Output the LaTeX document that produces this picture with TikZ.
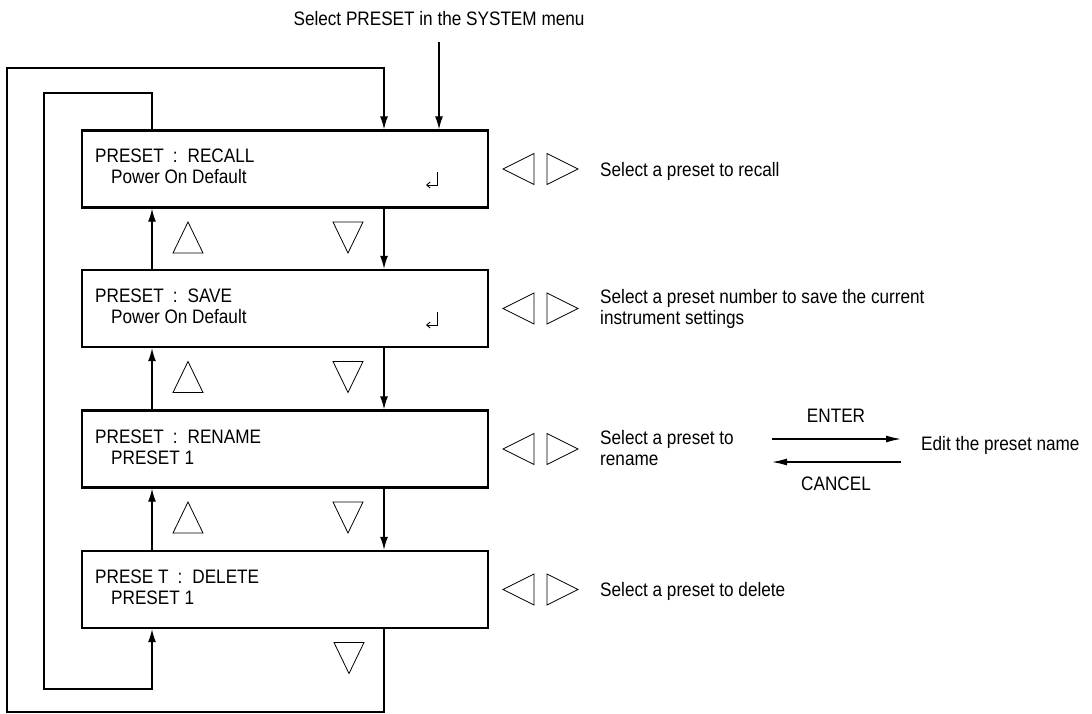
\documentclass[tikz,border=0pt]{standalone}
\usepackage{fontspec}
\setmainfont{Liberation Sans}[FakeStretch=0.88]
\usetikzlibrary{arrows.meta}
\newcommand\myfs{\fontsize{19.5}{21}\selectfont}
\begin{document}
\begin{tikzpicture}[x=1pt,y=-1pt,
  box/.style={draw, line width=2.4pt, minimum width=406pt, minimum height=77pt, inner sep=0pt},
  conn/.style={line width=1.3pt},
  arr/.style={conn, -{Latex[length=13pt,width=8pt]}},
  harr/.style={conn, -{Latex[length=15pt,width=7pt]}},
  tri/.style={line width=0.8pt, line join=miter},
  txt/.style={inner sep=0pt, anchor=base west, font=\myfs},
  ctxt/.style={inner sep=0pt, anchor=base, font=\myfs},
  uptri/.pic={\draw[tri] (-15,15.5) -- (15,15.5) -- (0,-15.5) -- cycle;},
  dntri/.pic={\draw[tri] (-15,-15.5) -- (15,-15.5) -- (0,15.5) -- cycle;},
  lftri/.pic={\draw[tri] (15.5,-15.5) -- (15.5,15.5) -- (-15.5,0) -- cycle;},
  rttri/.pic={\draw[tri] (-15.5,-15.5) -- (-15.5,15.5) -- (15.5,0) -- cycle;},
  retsym/.pic={\draw[line width=0.9pt, -{Straight Barb[length=3.5pt,width=6pt]}] (0,0) -- (0,13) -- (-11,13);},
]
\useasboundingbox (0,0) rectangle (1092,713);

% title
\node[ctxt] (title) at (439,25) {Select PRESET in the SYSTEM menu};
\coordinate (tin) at (439,42);

% boxes
\node[box] (b1) at (285,169) {};
\node[box] (b2) at (285,308.5) {};
\node[box] (b3) at (285,449) {};
\node[box] (b4) at (285,589.5) {};

% box texts
\node[txt] (t1a) at (95,162) {PRESET\hspace{9pt}:\hspace{10pt}RECALL};
\node[txt] (t1b) at (111,183) {Power On Default};
\node[txt] (t2a) at (95,302) {PRESET\hspace{9pt}:\hspace{10pt}SAVE};
\node[txt] (t2b) at (111,323) {Power On Default};
\node[txt] (t3a) at (95,443) {PRESET\hspace{9pt}:\hspace{10pt}RENAME};
\node[txt] (t3b) at (111,464) {PRESET 1};
\node[txt] (t4a) at (95,583) {PRESE T\hspace{9pt}:\hspace{10pt}DELETE};
\node[txt] (t4b) at (111,604) {PRESET 1};

\pic at (437,172) {retsym};
\pic at (437,312) {retsym};

% column coordinates
\coordinate (up) at (152,0);
\coordinate (dn) at (384,0);

% between-box connectors
\draw[arr] (b1.south -| dn) -- (b2.north -| dn);
\draw[arr] (b2.south -| dn) -- (b3.north -| dn);
\draw[arr] (b3.south -| dn) -- (b4.north -| dn);
\draw[arr] (b2.north -| up) -- (b1.south -| up);
\draw[arr] (b3.north -| up) -- (b2.south -| up);
\draw[arr] (b4.north -| up) -- (b3.south -| up);

% entry arrow
\draw[arr] (tin) -- (b1.north -| tin);

% outer loop
\coordinate (o1) at (384,712);
\coordinate (o2) at (7,712);
\coordinate (o3) at (7,68);
\coordinate (o4) at (384,68);
\draw[arr] (b4.south -| dn) -- (o1) -- (o2) -- (o3) -- (o4) -- (b1.north -| dn);

% inner loop
\coordinate (i1) at (152,93);
\coordinate (i2) at (44,93);
\coordinate (i3) at (44,689);
\coordinate (i4) at (152,689);
\draw[arr] (b1.north -| up) -- (i1) -- (i2) -- (i3) -- (i4) -- (b4.south -| up);

% up/down triangles
\pic at (188,237.5) {uptri};
\pic at (188,377) {uptri};
\pic at (188,517.5) {uptri};
\pic at (348,237.5) {dntri};
\pic at (348,377) {dntri};
\pic at (348,517.5) {dntri};
\pic at (349,658) {dntri};

% left/right triangles
\foreach \yy in {169,308.5,449,589.5}{
  \pic at (518.5,\yy) {lftri};
  \pic at (562.5,\yy) {rttri};
}

% right texts
\node[txt] (r1) at (600,176) {Select a preset to recall};
\node[txt] (r2) at (600,303) {\begin{tabular}[t]{@{}l@{}}Select a preset number to save the current\\instrument settings\end{tabular}};
\node[txt] (r3) at (600,444) {\begin{tabular}[t]{@{}l@{}}Select a preset to\\rename\end{tabular}};
\node[txt] (r4) at (600,596) {Select a preset to delete};

\node[txt] (edit) at (921,450) {Edit the preset name};
\node[ctxt] (enter) at (836,422) {ENTER};
\node[ctxt] (cancel) at (836,490) {CANCEL};
\coordinate (ea) at (772,439);
\coordinate (ca) at (772,462);
\draw[harr, shorten >=20pt] (ea) -- (ea -| edit.west);
\draw[harr, shorten <=20pt] (ca -| edit.west) -- (ca);
\end{tikzpicture}
\end{document}
